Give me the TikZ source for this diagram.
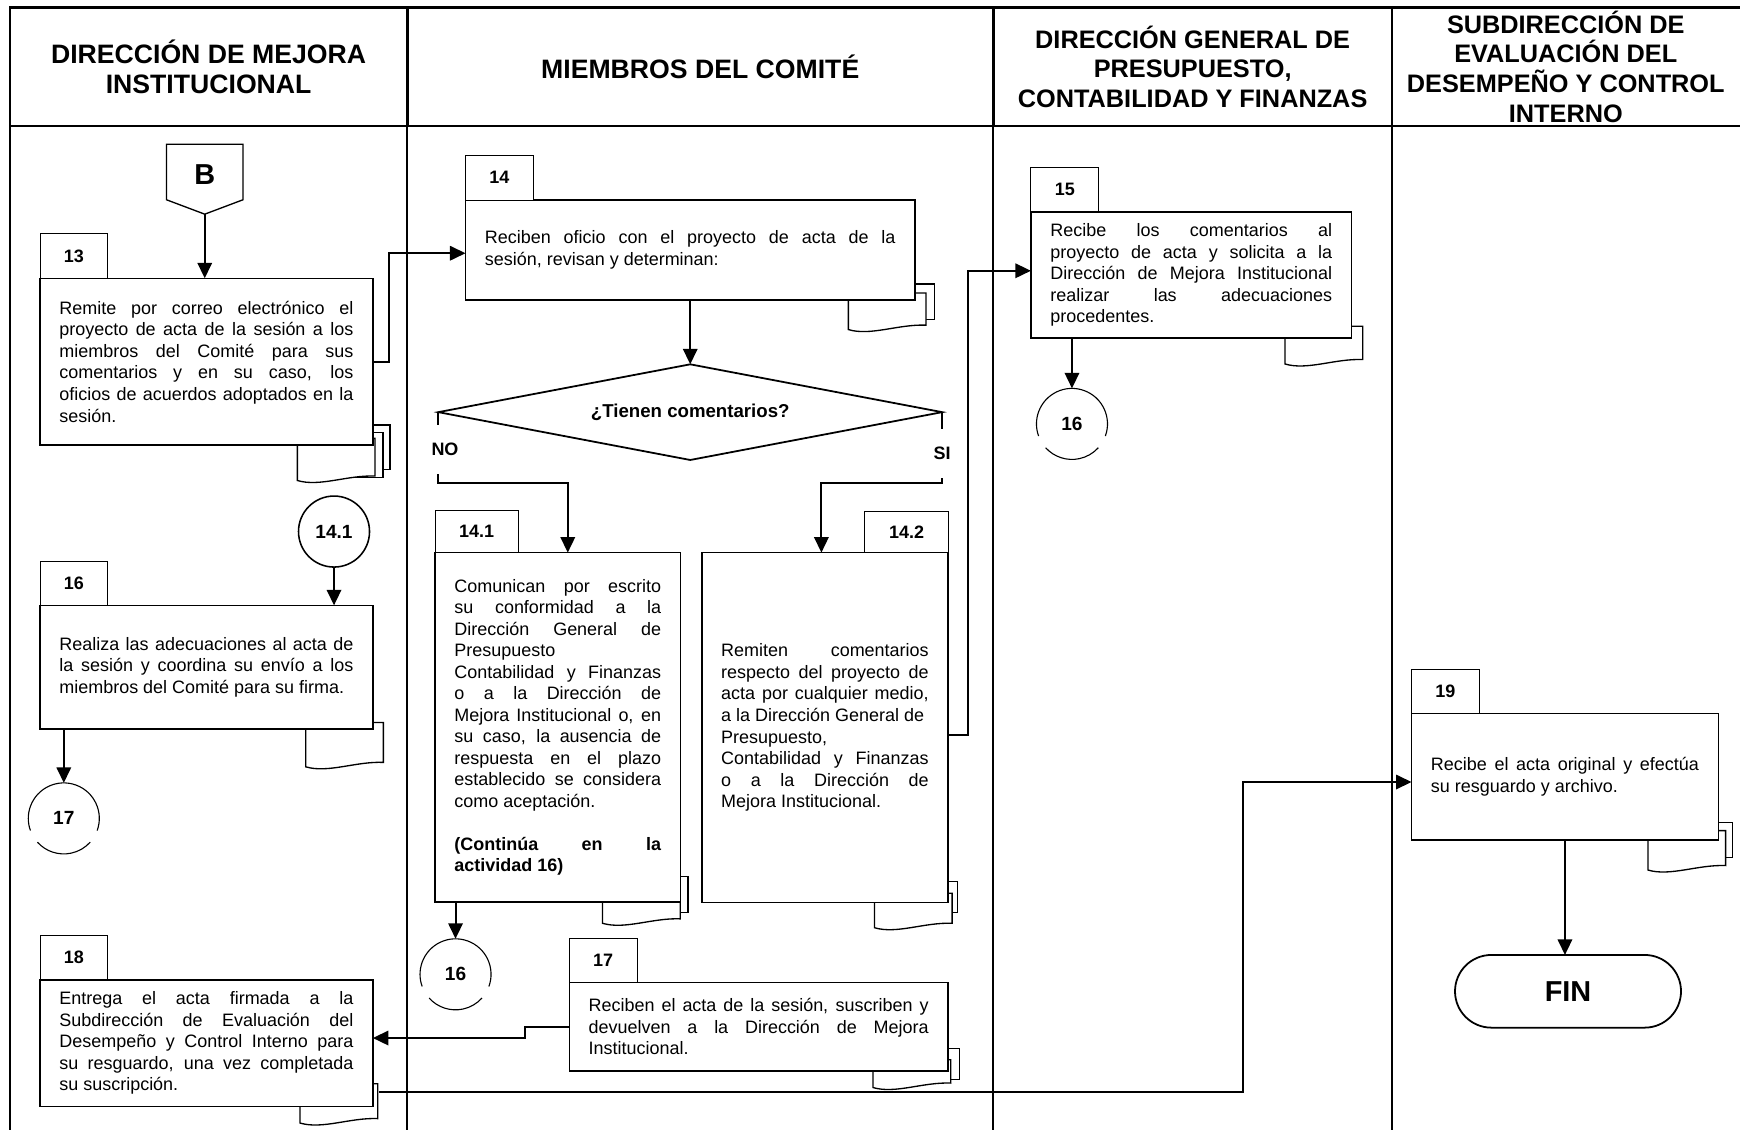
\documentclass[tikz,border=0pt]{standalone}
\usepackage{fontspec}
\setmainfont{Liberation Sans}
\usepackage{tikz}
\usetikzlibrary{shapes, arrows.meta, positioning, calc}
\setlength{\parindent}{0pt}
\hyphenpenalty=10000
\exhyphenpenalty=10000
\tolerance=10000
\newcommand{\cuerpo}{\fontsize{8.1}{9.7}\selectfont}
\newcommand{\titulo}{\fontsize{12}{13.35}\selectfont\bfseries}
\newcommand{\titulob}{\fontsize{11.4}{13.35}\selectfont\bfseries}
\newcommand{\hoja}[3]{\draw[hoja] (#1-70,#2) rectangle (#1,#3);}
\newcommand{\documento}[3]{\draw[hoja] (#1,#2) -- (#1,#3) .. controls (#1-25,#3-1) and (#1-50,#3+10) .. (#1-70,#3+4) -- (#1-70,#2) -- cycle;}
\tikzstyle{carril} = [align=center, inner sep=0pt]
\tikzstyle{actividad} = [draw, line width=0.7pt, fill=white, anchor=north west, outer sep=0pt, inner xsep=8.75pt, inner ysep=0pt, align=justify, font=\cuerpo]
\tikzstyle{numero} = [draw, line width=0.4pt, fill=white, outer sep=0pt, minimum width=30.5pt, minimum height=20pt, inner sep=0pt, font=\cuerpo\bfseries]
\tikzstyle{hoja} = [draw, line width=0.6pt, fill=white]
\tikzstyle{flecha} = [line width=0.9pt, -{Triangle[length=7pt, width=6.5pt]}]
\tikzstyle{fina} = [line width=0.5pt]
\tikzstyle{conector} = [circle, minimum size=32pt, inner sep=0pt, outer sep=0pt, font=\fontsize{8.6}{10}\selectfont\bfseries]
\tikzstyle{decision} = [diamond, draw, line width=0.8pt, fill=white, minimum width=227pt, minimum height=43.1pt, aspect=5.27, inner sep=0pt, outer sep=0pt, font=\fontsize{8.4}{10}\selectfont\bfseries]
\tikzstyle{fin} = [rounded rectangle, draw, line width=0.8pt, minimum width=108.5pt, minimum height=32.75pt, outer sep=0pt, font=\fontsize{13}{15}\selectfont\bfseries]
\tikzstyle{etiqueta} = [fill=white, inner xsep=1pt, inner ysep=0pt, minimum height=22pt, font=\cuerpo\bfseries]

\begin{document}
\begin{tikzpicture}[x=0.5pt, y=-0.5pt]
	\fill[white] (0,0) rectangle (1568,1018);
	\useasboundingbox (0,0) rectangle (1568,1018);

	\draw[line width=1.2pt] (9,1018) -- (9,6.6) -- (1568,6.6);
	\draw[line width=1.2pt] (9,113.5) -- (1568,113.5);
	\foreach \x in {367,895,1254.5} {
		\draw[line width=1.2pt] (\x,6.6) -- (\x,113.5);
		\draw[line width=0.8pt] (\x,113.5) -- (\x,1018);
	}
	\node[carril, font=\titulo] (l1) at (188,60) {DIRECCIÓN DE MEJORA\\INSTITUCIONAL};
	\node[carril, font=\titulo] (l2) at (631,60) {MIEMBROS DEL COMITÉ};
	\node[carril, font=\titulob] (l3) at (1074.75,60) {DIRECCIÓN GENERAL DE\\PRESUPUESTO,\\CONTABILIDAD Y FINANZAS};
	\node[carril, font=\titulob] (l4) at (1411,60) {SUBDIRECCIÓN DE\\EVALUACIÓN DEL\\DESEMPEÑO Y CONTROL\\INTERNO};

	\hoja{351.5}{383}{423} \hoja{345}{390}{430} \documento{338}{395}{429}
	\hoja{842}{256}{288} \documento{834.5}{264}{293}
	\hoja{620}{790}{822} \documento{613}{800}{828}
	\hoja{863}{794.5}{822} \documento{858}{805}{832}
	\documento{1228}{294}{324}
	\documento{345.5}{651}{687}
	\hoja{864.7}{944.7}{973} \documento{856.7}{955}{976}
	\documento{340.4}{976.6}{1008}
	\hoja{1561.5}{741.4}{773} \documento{1555}{748.5}{780}

	\node[actividad, text width=132.5pt, minimum height=75.1pt] (b13) at (36,250.8) {Remite por correo electrónico el\linebreak proyecto de acta de la sesión a los\linebreak miembros del Comité para sus\linebreak comentarios y en su caso, los\linebreak oficios de acuerdos adoptados en la\linebreak sesión.};
	\node[numero, anchor=south west] (n13) at (b13.north west) {13};
	\node[actividad, text width=185pt, minimum height=45pt] (b14) at (419.5,180.2) {Reciben oficio con el proyecto de acta de la\linebreak sesión, revisan y determinan:};
	\node[numero, anchor=south west] (n14) at (b14.north west) {14};
	\node[actividad, text width=93.15pt, minimum height=157.5pt] (b141) at (392,498) {Comunican por escrito\linebreak su conformidad a la\linebreak Dirección General de\linebreak Presupuesto\\ Contabilidad y Finanzas\linebreak o a la Dirección de\linebreak Mejora Institucional o, en\linebreak su caso, la ausencia de\linebreak respuesta en el plazo\linebreak establecido se considera\linebreak como aceptación.\\[9.7pt] {\bfseries (Continúa en la\linebreak actividad 16)}};
	\node[numero, anchor=south west, minimum width=37.5pt, minimum height=19pt] (n141) at (b141.north west) {14.1};
	\node[actividad, text width=93.5pt, minimum height=157.7pt] (b142) at (632.4,498) {Remiten comentarios\linebreak respecto del proyecto de\linebreak acta por cualquier medio,\linebreak a la Dirección General de\\ Presupuesto,\\ Contabilidad y Finanzas\linebreak o a la Dirección de\linebreak Mejora Institucional.};
	\node[numero, anchor=south east, minimum width=37.5pt, minimum height=18.5pt] (n142) at (b142.north east) {14.2};
	\node[actividad, text width=127pt, minimum height=57pt] (b15) at (929,190.8) {Recibe los comentarios al\linebreak proyecto de acta y solicita a la\linebreak Dirección de Mejora Institucional\linebreak realizar las adecuaciones\linebreak procedentes.};
	\node[numero, anchor=south west] (n15) at (b15.north west) {15};
	\node[actividad, text width=132.5pt, minimum height=55.75pt] (b16) at (36,545.5) {Realiza las adecuaciones al acta de\linebreak la sesión y coordina su envío a los\linebreak miembros del Comité para su firma.};
	\node[numero, anchor=south west] (n16) at (b16.north west) {16};
	\node[actividad, text width=153.15pt, minimum height=39.75pt] (b17) at (513,885.5) {Reciben el acta de la sesión, suscriben y\linebreak devuelven a la Dirección de Mejora\linebreak Institucional.};
	\node[numero, anchor=south west] (n17) at (b17.north west) {17};
	\node[actividad, text width=132.5pt, minimum height=57pt] (b18) at (36,883) {Entrega el acta firmada a la\linebreak Subdirección de Evaluación del\linebreak Desempeño y Control Interno para\linebreak su resguardo, una vez completada\linebreak su suscripción.};
	\node[numero, anchor=south west] (n18) at (b18.north west) {18};
	\node[actividad, text width=120.75pt, minimum height=57pt] (b19) at (1272,643) {Recibe el acta original y efectúa\linebreak su resguardo y archivo.};
	\node[numero, anchor=south west] (n19) at (b19.north west) {19};

	\coordinate (Bpunta) at (184.5,193);
	\draw[line width=0.6pt, fill=white] (150,130) -- (219,130) -- (219,180) -- (Bpunta) -- (150,180) -- cycle;
	\node[font=\fontsize{13}{15}\selectfont\bfseries] (B) at (184.5,157) {B};
	\node[decision] (dec) at (622,371.4) {¿Tienen comentarios?};
	\node[conector, draw, line width=0.7pt] (c141) at (301,479) {14.1};
	\node[conector] (c16a) at (410.5,878) {16};
	\node[conector] (c16b) at (966,382) {16};
	\node[conector] (c17) at (57.5,737.5) {17};
	\foreach \c in {c16a,c16b,c17} {
		\draw[fina] ([shift={(-20:16pt)}]\c.center) arc[start angle=-20, end angle=200, radius=16pt];
		\draw[fina] ([shift={(222:16pt)}]\c.center) arc[start angle=222, end angle=318, radius=16pt];
	}
	\node[fin] (fin) at (1413,893.3) {FIN};

	\draw[flecha] (Bpunta) -- (Bpunta |- b13.north);
	\draw[flecha] (b13.east) -- ++(14.1,0) |- ([yshift=-1.5pt]b14.west);
	\draw[flecha] (b14.south) -- (dec.north);
	\draw[flecha] (dec.west) -- node[etiqueta, pos=0.53, xshift=3pt] {NO} ++(0,64) -| ([xshift=4.5pt]b141.north);
	\draw[flecha] (dec.east) -- node[etiqueta, pos=0.53, yshift=-1.5pt] {SI} ++(0,64) -| ([xshift=-1.6pt]b142.north);
	\draw[flecha] ([yshift=-3.4pt]b142.east) -- ++(18.2,0) |- ([yshift=1.9pt]b15.west);
	\draw[flecha] (c16b |- b15.south) -- (c16b);
	\draw[flecha] (c141) -- (c141 |- b16.north);
	\draw[flecha] (c17 |- b16.south) -- (c17);
	\draw[flecha] (c16a |- b141.south) -- (c16a);
	\draw[flecha] (b17.west) -- ++(-40,0) |- ([yshift=2.3pt]b18.east);
	\draw[flecha] ([shift={(2.7pt,-22pt)}]b18.east) -- ++(779,0) |- ([yshift=-2.35pt]b19.west);
	\draw[flecha] (b19.south) -- (b19.south |- fin.north);
\end{tikzpicture}
\end{document}
